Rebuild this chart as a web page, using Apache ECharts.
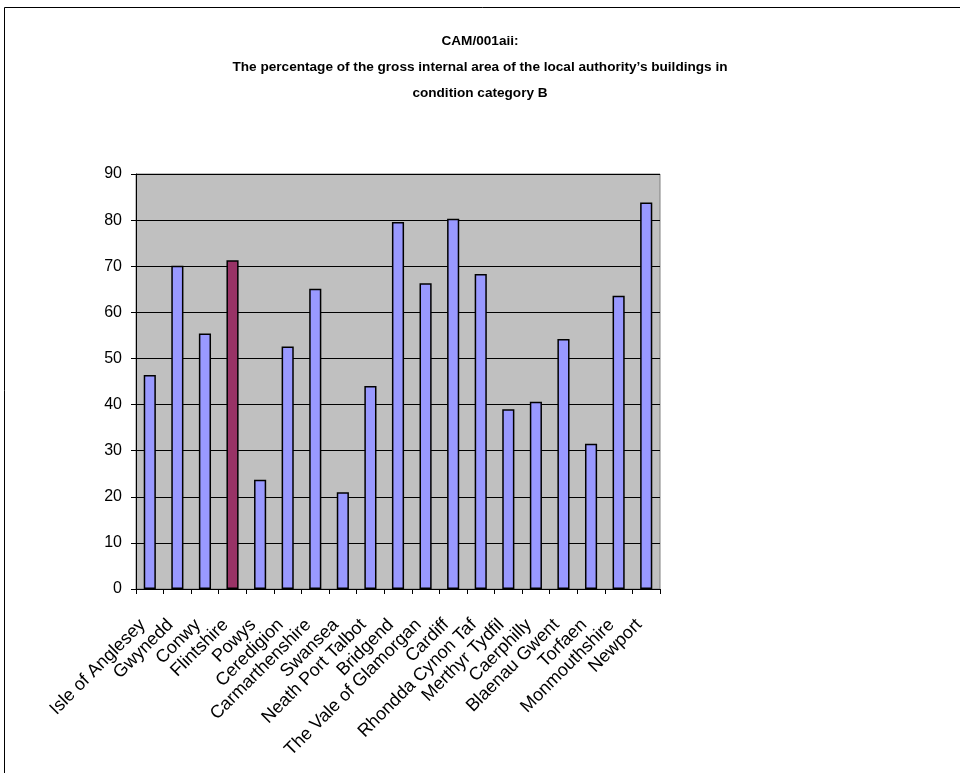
<!DOCTYPE html>
<html>
<head>
<meta charset="utf-8">
<script src="https://cdn.jsdelivr.net/npm/echarts@6/dist/echarts.min.js"></script>
<style>
html,body{margin:0;padding:0;background:#fff;}
#chart{width:960px;height:773px;}
</style>
</head>
<body>
<div id="chart"></div>
<script>
var categories = ["Isle of Anglesey","Gwynedd","Conwy","Flintshire","Powys","Ceredigion","Carmarthenshire","Swansea","Neath Port Talbot","Bridgend","The Vale of Glamorgan","Cardiff","Rhondda Cynon Taf","Merthyr Tydfil","Caerphilly","Blaenau Gwent","Torfaen","Monmouthshire","Newport"];
var values = [46.4, 70.1, 55.4, 71.3, 23.7, 52.6, 65.1, 21.0, 44.0, 79.6, 66.3, 80.3, 68.3, 39.0, 40.6, 54.2, 31.5, 63.6, 83.8];
var highlighted = "Flintshire";
var titleLines = ["CAM/001aii:", "The percentage of the gross internal area of the local authority\u2019s buildings in", "condition category B"];
var yTicks = {min: 0, max: 90, interval: 10};

var chart = echarts.init(document.getElementById('chart'));
var data = values.map(function(v, i){
  return {value: v, itemStyle: {color: categories[i] === highlighted ? '#993366' : '#9999FF'}};
});
chart.setOption({
  animation: false,
  backgroundColor: '#ffffff',
  title: {
    text: titleLines.join('\n'),
    left: 'center', top: 23,
    textStyle: {fontFamily: 'Arial, Liberation Sans', fontSize: 13.6, fontWeight: 'bold', color: '#000', lineHeight: 26, align: 'center'}
  },
  graphic: [{
    type: 'rect', silent: true, z: -1,
    shape: {x: 4.5, y: 7.5, width: 1000, height: 1000},
    style: {fill: 'none', stroke: '#000', lineWidth: 1}
  }],
  grid: {
    left: 136, top: 174, width: 524, height: 415,
    show: true, backgroundColor: '#C0C0C0', borderColor: '#808080', borderWidth: 1
  },
  xAxis: {
    type: 'category', data: categories,
    axisLine: {lineStyle: {color: '#000', width: 1}},
    axisTick: {show: true, alignWithLabel: false, length: 5, lineStyle: {color: '#000'}},
    axisLabel: {rotate: 45, interval: 0, margin: 26, padding: [0, 10, 0, 0], fontFamily: 'Arial, Liberation Sans', fontSize: 18, color: '#000'},
    splitLine: {show: false}
  },
  yAxis: {
    type: 'value', min: yTicks.min, max: yTicks.max, interval: yTicks.interval,
    axisLine: {show: true, lineStyle: {color: '#000', width: 1}},
    axisTick: {show: true, length: 5, lineStyle: {color: '#000'}},
    axisLabel: {margin: 14, fontFamily: 'Arial, Liberation Sans', fontSize: 16, color: '#000'},
    splitLine: {show: true, lineStyle: {color: '#000', width: 1}}
  },
  series: [{
    type: 'bar', data: data, barWidth: '44%',
    itemStyle: {borderColor: '#000', borderWidth: 1.5}
  }]
});
</script>
</body>
</html>
